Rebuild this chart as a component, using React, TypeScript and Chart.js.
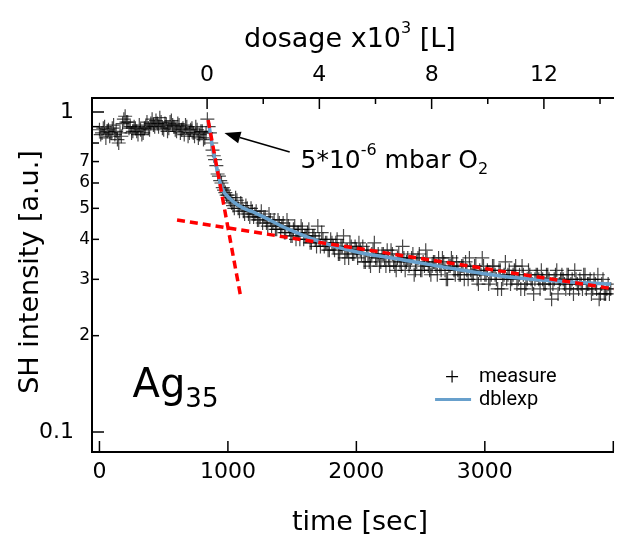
import React, { useEffect, useRef } from "react";
import { Chart, registerables } from "chart.js";

Chart.register(...registerables);

// ---- data ----
const SAMPLE_STEP = 20; // s, each scan
const SCAN_A_START = 0; // s
const SCAN_B_START = 10; // s (interleaved scans)

// scan A: before the O2 dose (t = 0 .. 840 s)
const baselineA = [
  0.88, 0.86, 0.9, 0.87, 0.84, 0.89, 0.85, 0.82, 0.86, 0.92,
  0.97, 0.93, 0.9, 0.87, 0.89, 0.85, 0.88, 0.86, 0.9, 0.89,
  0.92, 0.91, 0.94, 0.9, 0.93, 0.88, 0.91, 0.89, 0.94, 0.9,
  0.87, 0.91, 0.88, 0.85, 0.9, 0.86, 0.89, 0.84, 0.88, 0.85,
  0.87, 0.83, 0.95,
];
// scan A: during O2 exposure (t = 860 .. 3980 s)
const decayA = [
  0.86, 0.76, 0.71, 0.64, 0.61, 0.58, 0.56, 0.55,
  0.53, 0.51, 0.54, 0.5, 0.52, 0.49, 0.51, 0.48, 0.5, 0.47,
  0.49, 0.46, 0.49, 0.47, 0.45, 0.48, 0.44, 0.46, 0.43, 0.45,
  0.44, 0.42, 0.46, 0.43, 0.41, 0.44, 0.42, 0.4, 0.43, 0.41,
  0.42, 0.39, 0.41, 0.4, 0.44, 0.38, 0.4, 0.39, 0.37, 0.4,
  0.38, 0.39, 0.36, 0.38, 0.41, 0.37, 0.35, 0.38, 0.36, 0.37,
  0.39, 0.36, 0.34, 0.37, 0.34, 0.36, 0.39, 0.35, 0.33, 0.36,
  0.35, 0.37, 0.33, 0.36, 0.33, 0.35, 0.34, 0.38, 0.32, 0.35,
  0.34, 0.36, 0.32, 0.35, 0.32, 0.34, 0.37, 0.33, 0.31, 0.34,
  0.33, 0.35, 0.32, 0.34, 0.3, 0.33, 0.35, 0.32, 0.34, 0.31,
  0.33, 0.3, 0.32, 0.35, 0.31, 0.33, 0.3, 0.32, 0.35, 0.31,
  0.32, 0.3, 0.33, 0.31, 0.28, 0.32, 0.3, 0.34, 0.31, 0.29,
  0.31, 0.33, 0.3, 0.28, 0.31, 0.29, 0.32, 0.3, 0.27, 0.31,
  0.3, 0.32, 0.29, 0.31, 0.3, 0.26, 0.3, 0.32, 0.29, 0.31,
  0.29, 0.31, 0.28, 0.3, 0.32, 0.29, 0.3, 0.28, 0.31, 0.29,
  0.3, 0.28, 0.29, 0.31, 0.27, 0.3, 0.27, 0.29, 0.28,
];

// scan B: before the O2 dose (t = 10 .. 830 s)
const baselineB = [
  0.85, 0.89, 0.83, 0.88, 0.86, 0.91, 0.87, 0.8, 0.84, 0.95,
  0.93, 0.89, 0.86, 0.9, 0.87, 0.91, 0.85, 0.89, 0.93, 0.88,
  0.95, 0.9, 0.92, 0.96, 0.89, 0.92, 0.87, 0.93, 0.91, 0.88,
  0.92, 0.86, 0.89, 0.91, 0.84, 0.88, 0.86, 0.9, 0.83, 0.87,
  0.82, 0.86,
];
// scan B: during O2 exposure (t = 850 .. 3970 s)
const decayB = [
  0.9, 0.8, 0.73, 0.68, 0.63, 0.6, 0.57, 0.55,
  0.54, 0.52, 0.5, 0.53, 0.49, 0.51, 0.48, 0.5, 0.47, 0.49,
  0.48, 0.46, 0.47, 0.45, 0.47, 0.44, 0.46, 0.45, 0.43, 0.46,
  0.43, 0.45, 0.42, 0.44, 0.41, 0.43, 0.4, 0.42, 0.44, 0.4,
  0.41, 0.43, 0.39, 0.41, 0.38, 0.4, 0.42, 0.38, 0.39, 0.37,
  0.39, 0.37, 0.4, 0.36, 0.38, 0.35, 0.37, 0.39, 0.36, 0.38,
  0.35, 0.37, 0.38, 0.34, 0.36, 0.33, 0.37, 0.35, 0.36, 0.34,
  0.36, 0.33, 0.35, 0.37, 0.34, 0.32, 0.36, 0.33, 0.35, 0.34,
  0.33, 0.35, 0.31, 0.34, 0.36, 0.32, 0.33, 0.35, 0.32, 0.33,
  0.34, 0.31, 0.33, 0.35, 0.32, 0.3, 0.33, 0.34, 0.31, 0.32,
  0.31, 0.33, 0.34, 0.3, 0.32, 0.31, 0.33, 0.29, 0.31, 0.33,
  0.31, 0.29, 0.31, 0.33, 0.3, 0.32, 0.28, 0.31, 0.3, 0.32,
  0.3, 0.32, 0.29, 0.31, 0.33, 0.28, 0.3, 0.31, 0.29, 0.3,
  0.31, 0.28, 0.3, 0.29, 0.31, 0.28, 0.29, 0.31, 0.27, 0.3,
  0.3, 0.28, 0.31, 0.29, 0.27, 0.3, 0.28, 0.29, 0.31, 0.28,
  0.29, 0.27, 0.3, 0.28, 0.26, 0.29, 0.27, 0.28, 0.27,
];

// double exponential fit
const fitTimes = [850, 888, 904, 950, 1027, 1119, 1212, 1465, 1719, 2004, 2365, 2773, 3181, 3581, 3981];
const fitValues = [0.924, 0.745, 0.693, 0.583, 0.531, 0.501, 0.484, 0.431, 0.393, 0.365, 0.345, 0.323, 0.305, 0.296, 0.29];

// tangent (single exponential) guides
const fastTimes = [846, 1100];
const fastValues = [0.944, 0.264];
const slowTimes = [604, 4004];
const slowValues = [0.46, 0.28];

// axes
const TIME_MIN = -58;
const TIME_MAX = 4004;
const INTENSITY_MIN = 0.0866;
const INTENSITY_MAX = 1.106;
const DOSE_START_TIME = 838; // s, valve opened
const DOSE_RATE = 0.004577; // x10^3 L per s

const timeTicks = [0, 1000, 2000, 3000, 4000];
const timeTickLabels = ["0", "1000", "2000", "3000", ""];
const dosageTicks = [0, 2, 4, 6, 8, 10, 12, 14];
const dosageTickLabels = ["0", "", "4", "", "8", "", "12", ""];
const intensityTicks = [1, 0.9, 0.8, 0.7, 0.6, 0.5, 0.4, 0.3, 0.2, 0.1];
const intensityTickLabels = ["1", "", "", "7", "6", "5", "4", "3", "2", "0.1"];
const intensityMajor = [1, 0.1];

// annotation anchors (data coordinates)
const arrowFrom = { t: 1481, v: 0.75 };
const arrowTo = { t: 973, v: 0.86 };
const noteAt = { t: 1565, v: 0.668 };
const sampleAt = { t: 258, v: 0.129 };
const legendAt = { t: 2745, v: 0.149 };

const FONT = "'DejaVu Sans', sans-serif";
const BLUE = "rgb(104,160,204)";
const RED = "#ff0000";

type Run = { text: string; size: number; dy: number };

function drawRuns(ctx: CanvasRenderingContext2D, x: number, y: number, runs: Run[], align: "left" | "center") {
  let total = 0;
  runs.forEach((r) => {
    ctx.font = `${r.size}px ${FONT}`;
    total += ctx.measureText(r.text).width;
  });
  let cx = align === "center" ? x - total / 2 : x;
  ctx.textAlign = "left";
  ctx.textBaseline = "alphabetic";
  runs.forEach((r) => {
    ctx.font = `${r.size}px ${FONT}`;
    ctx.fillText(r.text, cx, y + r.dy);
    cx += ctx.measureText(r.text).width;
  });
}

const overlayPlugin = {
  id: "overlay",
  afterDraw(chart: any) {
    const { ctx, scales } = chart;
    const xs = scales.x;
    const ys = scales.y;
    const x2 = scales.x2;
    const area = chart.chartArea;
    ctx.save();
    ctx.strokeStyle = "#000";
    ctx.fillStyle = "#000";
    ctx.lineWidth = 1.5;

    // inward ticks, left axis
    intensityTicks.forEach((v, i) => {
      const py = ys.getPixelForValue(v);
      const major = intensityMajor.includes(v);
      const len = major ? 12 : 7;
      ctx.beginPath();
      ctx.moveTo(area.left, py);
      ctx.lineTo(area.left + len, py);
      ctx.stroke();
      const label = intensityTickLabels[i];
      if (label) {
        ctx.font = `${major ? 22 : 17}px ${FONT}`;
        ctx.textAlign = "right";
        ctx.textBaseline = "middle";
        ctx.fillText(label, major ? area.left - 18 : area.left - 2, py);
      }
    });
    // bottom axis ticks
    timeTicks.forEach((t) => {
      const px = xs.getPixelForValue(t);
      ctx.beginPath();
      ctx.moveTo(px, area.bottom);
      ctx.lineTo(px, area.bottom - 11);
      ctx.stroke();
    });
    // top axis ticks
    dosageTicks.forEach((d, i) => {
      const px = x2.getPixelForValue(d);
      const len = dosageTickLabels[i] ? 11 : 6;
      ctx.beginPath();
      ctx.moveTo(px, area.top);
      ctx.lineTo(px, area.top + len);
      ctx.stroke();
    });

    // axis titles
    ctx.fillStyle = "#000";
    drawRuns(ctx, 360, 530, [{ text: "time [sec]", size: 27, dy: 0 }], "center");
    drawRuns(
      ctx,
      350,
      47,
      [
        { text: "dosage x10", size: 27, dy: 0 },
        { text: "3", size: 16, dy: -14 },
        { text: " [L]", size: 27, dy: 0 },
      ],
      "center"
    );
    ctx.save();
    ctx.translate(38, 272);
    ctx.rotate(-Math.PI / 2);
    drawRuns(ctx, 0, 0, [{ text: "SH intensity [a.u.]", size: 27, dy: 0 }], "center");
    ctx.restore();

    // arrow annotation
    const ax0 = xs.getPixelForValue(arrowFrom.t);
    const ay0 = ys.getPixelForValue(arrowFrom.v);
    const ax1 = xs.getPixelForValue(arrowTo.t);
    const ay1 = ys.getPixelForValue(arrowTo.v);
    const ang = Math.atan2(ay1 - ay0, ax1 - ax0);
    const head = 16;
    const hw = 6;
    const bx = ax1 - head * Math.cos(ang);
    const by = ay1 - head * Math.sin(ang);
    ctx.lineWidth = 1.5;
    ctx.beginPath();
    ctx.moveTo(ax0, ay0);
    ctx.lineTo(bx, by);
    ctx.stroke();
    ctx.beginPath();
    ctx.moveTo(ax1, ay1);
    ctx.lineTo(bx + hw * Math.sin(ang), by - hw * Math.cos(ang));
    ctx.lineTo(bx - hw * Math.sin(ang), by + hw * Math.cos(ang));
    ctx.closePath();
    ctx.fill();

    drawRuns(
      ctx,
      xs.getPixelForValue(noteAt.t),
      ys.getPixelForValue(noteAt.v),
      [
        { text: "5*10", size: 25, dy: 0 },
        { text: "-6", size: 16, dy: -13 },
        { text: " mbar O", size: 25, dy: 0 },
        { text: "2", size: 16, dy: 6 },
      ],
      "left"
    );

    // sample label
    drawRuns(
      ctx,
      xs.getPixelForValue(sampleAt.t),
      ys.getPixelForValue(sampleAt.v),
      [
        { text: "Ag", size: 40, dy: 0 },
        { text: "35", size: 26, dy: 10 },
      ],
      "left"
    );

    // legend
    const lx = xs.getPixelForValue(legendAt.t);
    const ly = ys.getPixelForValue(legendAt.v);
    ctx.strokeStyle = "#000";
    ctx.lineWidth = 1.2;
    ctx.beginPath();
    ctx.moveTo(lx - 6, ly);
    ctx.lineTo(lx + 6, ly);
    ctx.moveTo(lx, ly - 6);
    ctx.lineTo(lx, ly + 6);
    ctx.stroke();
    ctx.strokeStyle = BLUE;
    ctx.lineWidth = 3;
    ctx.beginPath();
    ctx.moveTo(lx - 17, ly + 23);
    ctx.lineTo(lx + 19, ly + 23);
    ctx.stroke();
    ctx.fillStyle = "#000";
    ctx.font = "20px Roboto, sans-serif";
    ctx.textAlign = "left";
    ctx.textBaseline = "middle";
    ctx.fillText("measure", lx + 27, ly);
    ctx.fillText("dblexp", lx + 27, ly + 23);

    ctx.restore();
  },
};

export default function App() {
  const canvasRef = useRef<HTMLCanvasElement | null>(null);

  useEffect(() => {
    const canvas = canvasRef.current;
    if (!canvas) return;

    const scanA = [...baselineA, ...decayA].map((v, i) => ({ x: SCAN_A_START + i * SAMPLE_STEP, y: v }));
    const scanB = [...baselineB, ...decayB].map((v, i) => ({ x: SCAN_B_START + i * SAMPLE_STEP, y: v }));
    const measurePoints = [...scanA, ...scanB].sort((a, b) => a.x - b.x);
    const fitPoints = fitTimes.map((t, i) => ({ x: t, y: fitValues[i] }));
    const fastPoints = fastTimes.map((t, i) => ({ x: t, y: fastValues[i] }));
    const slowPoints = slowTimes.map((t, i) => ({ x: t, y: slowValues[i] }));

    const doseMin = (TIME_MIN - DOSE_START_TIME) * DOSE_RATE;
    const doseMax = (TIME_MAX - DOSE_START_TIME) * DOSE_RATE;

    const chart = new Chart(canvas, {
      type: "scatter",
      data: {
        datasets: [
          {
            label: "fast",
            data: fastPoints,
            showLine: true,
            borderColor: RED,
            borderWidth: 3.5,
            borderDash: [8, 5],
            pointRadius: 0,
            order: 0,
          },
          {
            label: "slow",
            data: slowPoints,
            showLine: true,
            borderColor: RED,
            borderWidth: 3.5,
            borderDash: [8, 5],
            pointRadius: 0,
            order: 0,
          },
          {
            label: "dblexp",
            data: fitPoints,
            showLine: true,
            borderColor: BLUE,
            borderWidth: 3.5,
            pointRadius: 0,
            cubicInterpolationMode: "monotone",
            order: 1,
          },
          {
            label: "measure",
            data: measurePoints,
            pointStyle: "cross",
            pointRadius: 7,
            borderWidth: 1.2,
            borderColor: "rgba(0,0,0,0.72)",
            backgroundColor: "rgba(0,0,0,0.72)",
            order: 2,
          },
        ],
      },
      options: {
        animation: false,
        responsive: false,
        events: [],
        layout: { padding: { left: 0, right: 2, top: 0, bottom: 0 } },
        plugins: { legend: { display: false }, tooltip: { enabled: false } },
        scales: {
          x: {
            type: "linear",
            position: "bottom",
            min: TIME_MIN,
            max: TIME_MAX,
            afterBuildTicks: (s: any) => {
              s.ticks = timeTicks.map((v) => ({ value: v }));
            },
            afterFit: (s: any) => {
              s.height = 86;
            },
            ticks: {
              autoSkip: false,
              maxRotation: 0,
              padding: 7,
              color: "#000",
              font: { family: FONT, size: 22 },
              callback: (_v: any, i: number) => timeTickLabels[i],
            },
            grid: { display: false, drawTicks: false, tickLength: 0 },
            border: { display: true, color: "#000", width: 2 },
          },
          x2: {
            type: "linear",
            position: "top",
            min: doseMin,
            max: doseMax,
            afterBuildTicks: (s: any) => {
              s.ticks = dosageTicks.map((v) => ({ value: v }));
            },
            afterFit: (s: any) => {
              s.height = 98;
            },
            ticks: {
              autoSkip: false,
              maxRotation: 0,
              padding: 10,
              color: "#000",
              font: { family: FONT, size: 22 },
              callback: (_v: any, i: number) => dosageTickLabels[i],
            },
            grid: { display: false, drawTicks: false, tickLength: 0 },
            border: { display: true, color: "#000", width: 2 },
          },
          y: {
            type: "logarithmic",
            position: "left",
            min: INTENSITY_MIN,
            max: INTENSITY_MAX,
            afterBuildTicks: (s: any) => {
              s.ticks = intensityTicks.map((v) => ({ value: v }));
            },
            afterFit: (s: any) => {
              s.width = 92;
            },
            ticks: { display: false },
            grid: { display: false, drawTicks: false, tickLength: 0 },
            border: { display: true, color: "#000", width: 2 },
          },
        },
      },
      plugins: [overlayPlugin],
    } as any);

    return () => chart.destroy();
  }, []);

  return (
    <div style={{ position: "fixed", left: 0, top: 0, width: 622, height: 538, background: "#fff" }}>
      <canvas ref={canvasRef} width={622} height={538} style={{ display: "block" }} />
    </div>
  );
}
